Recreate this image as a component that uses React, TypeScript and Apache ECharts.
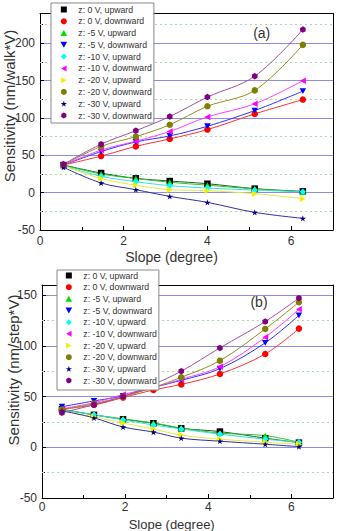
import React, { useEffect, useRef } from 'react';
import * as echarts from 'echarts';

// ---------- data ----------
const seriesNames = [
  'z: 0 V, upward',
  'z: 0 V, downward',
  'z: -5 V, upward',
  'z: -5 V, downward',
  'z: -10 V, upward',
  'z: -10 V, downward',
  'z: -20 V, upward',
  'z: -20 V, downward',
  'z: -30 V, upward',
  'z: -30 V, downward',
];

// panel (a)
const slopeA = [0.56, 1.46, 2.29, 3.1, 4.0, 5.13, 6.28];
const a0Up = [37, 26.3, 19.2, 15.6, 12, 5.4, 1.8];
const a0Down = [37, 49, 62, 72, 84.5, 105.5, 124.7];
const a5Up = [37, 25, 19, 14, 10, 5, 1];
const a5Down = [37, 55, 68, 76, 89, 110, 136];
const a10Up = [36, 22, 14.7, 9.4, 6.2, 3.5, 1.3];
const a10Down = [37, 57, 69, 82, 101.5, 119, 150];
const a20Up = [36, 19, 10, 4, 2.7, -1.3, -8];
const a20Down = [37, 62, 75, 91, 115.7, 137, 198];
const a30Up = [34, 13, 4, -5, -13, -26.4, -34.4];
const a30Down = [38, 65, 83, 102, 128, 156, 218.5];

// panel (b)
const slopeB = [0.48, 1.25, 1.95, 2.68, 3.35, 4.28, 5.37, 6.18];
const b0Up = [37.5, 32, 27.6, 23.7, 18.7, 15.5, 9, 4.6];
const b0Down = [37.8, 41.7, 49, 56.5, 62, 72.3, 92, 117];
const b5Up = [37, 32, 28, 24, 19, 14, 11.5, 5];
const b5Down = [40, 45.7, 50.6, 59, 66, 77.5, 103, 130];
const b10Up = [37, 32, 27, 22, 18, 13, 8, 5];
const b10Down = [38, 44, 52, 59, 67, 79.5, 108.5, 136];
const b20Up = [36, 30, 24, 18, 12, 8, 5, 3];
const b20Down = [37, 43, 50, 59, 69, 85.4, 116.7, 143];
const b30Up = [36, 29, 20, 15, 9, 6, 3, 0.6];
const b30Down = [34, 42, 50, 62, 75, 98, 124, 147];

const valuesA = [a0Up, a0Down, a5Up, a5Down, a10Up, a10Down, a20Up, a20Down, a30Up, a30Down];
const valuesB = [b0Up, b0Down, b5Up, b5Down, b10Up, b10Down, b20Up, b20Down, b30Up, b30Down];

const xTicks = { min: 0, max: 7, interval: 2 };
const yTicksA = { min: -50, max: 240, interval: 50 };
const yTicksB = { min: -50, max: 160, interval: 50 };
const minorLinesA = [-25, 25, 75, 125, 175, 225];
const minorLinesB = [-25, 25, 75, 125];

// ---------- styles ----------
const markerColors = ['#000000', '#ff0000', '#00e000', '#0000ff', '#00ffff', '#ff00ff', '#f0f000', '#808000', '#000080', '#800080'];
const lineColors = ['#206020', '#ff3030', '#30c030', '#3030ff', '#30e0e0', '#ff40ff', '#e8e840', '#909020', '#3030a0', '#a050a0'];
const symbols = [
  'path://M0,0 L10,0 L10,10 L0,10 Z',
  'circle',
  'path://M5,0 L10,9 L0,9 Z',
  'path://M0,0 L10,0 L5,9 Z',
  'path://M5,0 L10,5 L5,10 L0,5 Z',
  'path://M0,5 L9,0 L9,10 Z',
  'path://M0,0 L9,5 L0,10 Z',
  'circle',
  'path://M50,0 L61,35 L98,35 L68,57 L79,91 L50,70 L21,91 L32,57 L2,35 L39,35 Z',
  'path://M50,0 L93,25 L93,75 L50,100 L7,75 L7,25 Z',
];

const FONT = "'Liberation Sans', Arial, sans-serif";

function buildSeries(xs: number[], vals: number[][], axisIdx: number, minor: number[]) {
  return vals.map((v, i) => ({
    type: 'line',
    name: seriesNames[i],
    xAxisIndex: axisIdx,
    yAxisIndex: axisIdx,
    data: xs.map((x, j) => [x, v[j]]),
    smooth: 0.35,
    symbol: symbols[i],
    symbolSize: 6.5,
    symbolKeepAspect: true,
    itemStyle: { color: markerColors[i] },
    lineStyle: { color: lineColors[i], width: 1 },
    z: 3,
    markLine:
      i === 0
        ? {
            silent: true,
            symbol: 'none',
            label: { show: false },
            lineStyle: { color: '#a8dca8', type: [2, 3], width: 1 },
            data: minor.map((m) => ({ yAxis: m })),
            z: 1,
          }
        : undefined,
  }));
}

function legendFor(left: number, top: number, padding: number[], gap: number) {
  return {
    orient: 'vertical',
    left,
    top,
    padding,
    itemGap: gap,
    itemWidth: 19,
    itemHeight: 6,
    symbolKeepAspect: true,
    backgroundColor: '#fff',
    borderColor: '#888',
    borderWidth: 1,
    selectedMode: false,
    textStyle: { fontFamily: FONT, fontSize: 8.7, color: '#333', lineHeight: 8 },
    data: seriesNames.map((n, i) => ({ name: n, icon: symbols[i], itemStyle: { color: markerColors[i] } })),
    z: 10,
  };
}

function xAxisFor(grid: number, margin: number) {
  return {
    type: 'value',
    gridIndex: grid,
    position: 'bottom',
    ...xTicks,
    axisLine: { show: true, onZero: false, lineStyle: { color: '#000', width: 1 } },
    axisTick: { show: true, inside: true, length: 4, lineStyle: { color: '#000' } },
    minorTick: { show: true, splitNumber: 2, length: 3, lineStyle: { color: '#000' } },
    axisLabel: { fontFamily: FONT, fontSize: 12, color: '#333', margin, showMaxLabel: false },
    splitLine: { show: false },
  };
}

function frameX(grid: number) {
  return {
    type: 'value',
    gridIndex: grid,
    position: 'top',
    ...xTicks,
    axisLine: { show: true, onZero: false, lineStyle: { color: '#000', width: 1 } },
    axisTick: { show: false },
    axisLabel: { show: false },
    splitLine: { show: false },
  };
}

function yAxisFor(grid: number, ticks: any) {
  return {
    type: 'value',
    gridIndex: grid,
    position: 'left',
    ...ticks,
    axisLine: { show: true, onZero: false, lineStyle: { color: '#000', width: 1 } },
    axisTick: { show: true, inside: true, length: 4, lineStyle: { color: '#000' } },
    minorTick: { show: true, splitNumber: 2, length: 3, lineStyle: { color: '#000' } },
    axisLabel: { fontFamily: FONT, fontSize: 12, color: '#333', margin: 5, showMaxLabel: false },
    splitLine: { show: true, showMinLine: false, showMaxLine: false, lineStyle: { color: '#8c8ce6', width: 1 } },
  };
}

function frameY(grid: number, ticks: any) {
  return {
    type: 'value',
    gridIndex: grid,
    position: 'right',
    ...ticks,
    axisLine: { show: true, onZero: false, lineStyle: { color: '#000', width: 1 } },
    axisTick: { show: false },
    axisLabel: { show: false },
    splitLine: { show: false },
  };
}

function label(text: string, x: number, y: number, size: number, rotation = 0) {
  return {
    type: 'text',
    x,
    y,
    rotation,
    style: { text, fontFamily: FONT, fontSize: size, fill: '#333', align: 'center', verticalAlign: 'middle' },
    z: 20,
  };
}

export default function App() {
  const ref = useRef<HTMLDivElement>(null);
  useEffect(() => {
    if (!ref.current) return;
    const chart = echarts.init(ref.current, null, { renderer: 'svg' });
    chart.setOption({
      animation: false,
      backgroundColor: '#fff',
      grid: [
        { left: 40, top: 13.5, width: 293, height: 216.5 },
        { left: 42, top: 285, width: 291, height: 213 },
      ],
      xAxis: [xAxisFor(0, 5), frameX(0), xAxisFor(1, 3), frameX(1)],
      yAxis: [yAxisFor(0, yTicksA), frameY(0, yTicksA), yAxisFor(1, yTicksB), frameY(1, yTicksB)],
      legend: [legendFor(51, 3, [2, 2, 3, 9.5], 2.78), legendFor(57, 270, [1, 2, 5, 8.5], 2.67)],
      series: [
        ...buildSeries(slopeA, valuesA, 0, minorLinesA).map((s) => ({ ...s, xAxisIndex: 0, yAxisIndex: 0 })),
        ...buildSeries(slopeB, valuesB, 2, minorLinesB).map((s) => ({ ...s, xAxisIndex: 2, yAxisIndex: 2 })),
      ],
      graphic: [
        label('Sensitivity (nm/walk*V)', 9.5, 106, 15, Math.PI / 2),
        label('Sensitivity (nm/step*V)', 13, 370, 15, Math.PI / 2),
        label('Slope (degree)', 171.5, 256.5, 14),
        label('Slope (degree)', 171.7, 524, 13),
        label('(a)', 261.7, 33.3, 14),
        label('(b)', 259, 301.7, 14),
      ],
    });
    return () => chart.dispose();
  }, []);
  return <div ref={ref} style={{ position: 'absolute', left: 0, top: 0, width: 337, height: 531 }} />;
}
